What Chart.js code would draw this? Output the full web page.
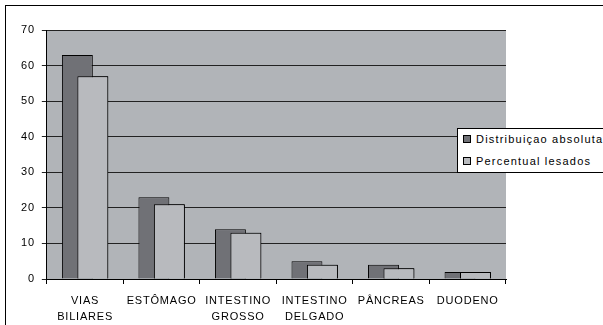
<!DOCTYPE html>
<html lang="pt">
<head>
    <meta charset="UTF-8">
    <title>Distribuição de lesões</title>
    <script src="https://cdn.jsdelivr.net/npm/chart.js"></script>
    <style>
        html, body { margin: 0; padding: 0; background: #fff; overflow: hidden; }
        .frame { position: absolute; left: 5px; top: 5px; width: 700px; height: 400px; border: 1px solid #000; }
        #chart { position: absolute; left: 0; top: 0; }
        .legend { position: absolute; left: 457px; top: 128px; width: 220px; height: 43px; background: #fff; border: 1px solid #000;
                  font-family: "Liberation Sans", Arial, sans-serif; font-size: 11px; letter-spacing: 1.2px; color: #000; }
        .legend div { position: absolute; left: 5px; height: 14px; line-height: 14px; white-space: nowrap; }
        .legend span { display: inline-block; width: 6px; height: 6px; border: 1px solid #000; margin-right: 5px; vertical-align: 0px; }
    </style>
</head>
<body>
    <div class="frame"></div>
    <canvas id="chart" width="603" height="329"></canvas>
    <div class="legend" id="legend"></div>
    <script>
        const categories = [['VIAS', 'BILIARES'], 'ESTÔMAGO', ['INTESTINO', 'GROSSO'], ['INTESTINO', 'DELGADO'], 'PÂNCREAS', 'DUODENO'];
        const absoluta = [63, 23, 14, 5, 4, 2];
        const lesados = [57, 21, 13, 4, 3, 2];
        const seriesNames = ['Distribuiçao absoluta', 'Percentual lesados'];
        const seriesColors = ['#707176', '#b8babe'];

        const font = { family: '"Liberation Sans", Arial, sans-serif', size: 11 };

        const spacing = {
            id: 'spacing',
            beforeUpdate(chart) { chart.ctx.letterSpacing = '0.8px'; },
            beforeDraw(chart) {
                const { ctx, chartArea: a } = chart;
                ctx.letterSpacing = '0.8px';
                ctx.save();
                ctx.fillStyle = '#b1b4b8';
                ctx.fillRect(a.left, a.top, a.right - a.left, a.bottom - a.top);
                ctx.restore();
            },
            // second series sits over the first one, like the original
            afterDatasetsDraw(chart) {
                chart.getDatasetMeta(1).data.forEach(bar => bar.draw(chart.ctx));
            },
            afterUpdate(chart) {
                document.getElementById('legend').innerHTML = chart.data.datasets.map((d, i) =>
                    `<div style="top:${3 + i * 22}px"><span style="background:${d.backgroundColor}"></span>${d.label}</div>`).join('');
            }
        };

        new Chart(document.getElementById('chart'), {
            type: 'bar',
            data: {
                labels: categories,
                datasets: [
                    { label: seriesNames[0], data: absoluta, backgroundColor: seriesColors[0], borderColor: '#000', borderWidth: 1 },
                    { label: seriesNames[1], data: lesados, backgroundColor: seriesColors[1], borderColor: '#000', borderWidth: 1 }
                ]
            },
            options: {
                responsive: false,
                animation: false,
                categoryPercentage: 0.404,
                barPercentage: 2,
                layout: { padding: { left: 14, right: 97, top: 30, bottom: -5 } },
                plugins: { legend: { display: false }, tooltip: { enabled: false } },
                scales: {
                    x: {
                        grid: { drawOnChartArea: false, color: '#000', tickLength: 5 },
                        border: { color: '#000' },
                        ticks: { color: '#000', font: { ...font, lineHeight: 1.4545 }, padding: 9, maxRotation: 0, autoSkip: false }
                    },
                    y: {
                        min: 0, max: 70,
                        grid: { color: '#222', tickLength: 5 },
                        border: { color: '#000' },
                        ticks: { stepSize: 10, color: '#000', font: font, padding: 7 }
                    }
                }
            },
            plugins: [spacing]
        });
    </script>
</body>
</html>
